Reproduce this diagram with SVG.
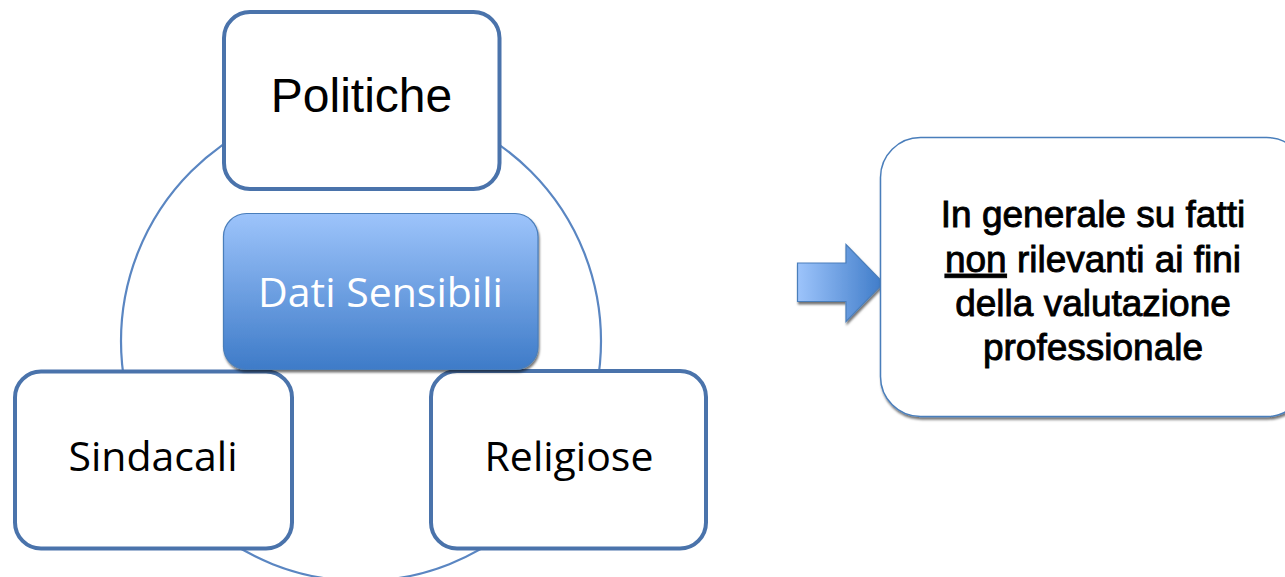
<svg xmlns="http://www.w3.org/2000/svg" width="1285" height="577" viewBox="0 0 1285 577">
  <defs>
    <linearGradient id="gV" x1="0" y1="0" x2="0" y2="1">
      <stop offset="0" stop-color="#9dc4fb"/>
      <stop offset="1" stop-color="#3e7bc8"/>
    </linearGradient>
    <linearGradient id="gH" x1="0" y1="0" x2="1" y2="0">
      <stop offset="0" stop-color="#9dc4fb"/>
      <stop offset="1" stop-color="#3e7bc8"/>
    </linearGradient>
    <filter id="sh" x="-10%" y="-10%" width="120%" height="130%">
      <feDropShadow dx="1" dy="2.5" stdDeviation="1" flood-color="#000" flood-opacity="0.55"/>
    </filter>
  </defs>
  <style>
    .box{fill:#fff;stroke:#4a73ab;stroke-width:4}
    .lbl{font-family:"Open Sans","Noto Sans",sans-serif;font-size:41px;fill:#000;text-anchor:middle}
    .arial{font-family:"Liberation Sans",Arial,sans-serif;fill:#000;text-anchor:middle}
    .ring{fill:none;stroke:#5a86c2;stroke-width:2.2}
    .blue{fill:url(#gV);stroke:#4a7ebb;stroke-width:1.2}
  </style>

  <g id="connectors">
    <circle class="ring" cx="361" cy="341" r="240"/>
    <path id="arrow" d="M797.5,263 L846,263 L846,244.5 L883.5,283 L846,321.5 L846,301.5 L797.5,301.5 Z" fill="url(#gH)" stroke="#4a7ebb" stroke-width="1.2" filter="url(#sh)"/>
  </g>

  <g id="politiche">
    <rect class="box" x="224" y="12" width="275.5" height="177" rx="26"/>
    <text class="arial" x="361.5" y="112" font-size="48">Politiche</text>
  </g>

  <g id="sindacali">
    <rect class="box" x="15" y="371.5" width="277" height="177" rx="26"/>
    <text class="lbl" x="153" y="471">Sindacali</text>
  </g>

  <g id="religiose">
    <rect class="box" x="431" y="371" width="275" height="177.5" rx="26"/>
    <text class="lbl" x="569" y="471">Religiose</text>
  </g>

  <g id="dati-sensibili">
    <rect class="blue" x="223.5" y="213.5" width="314.5" height="156" rx="23" filter="url(#sh)"/>
    <text class="lbl" x="380.5" y="307" style="fill:#fff">Dati Sensibili</text>
  </g>

  <g id="nota">
    <rect x="880.5" y="137.5" width="426" height="279" rx="40" fill="#fff" stroke="#4a7ebb" stroke-width="1.5" filter="url(#sh)"/>
    <g class="arial" font-size="37" stroke="#000" stroke-width="0.9">
      <text x="1093" y="227">In generale su fatti</text>
      <text x="1093" y="272"><tspan text-decoration="underline">non</tspan> rilevanti ai fini</text>
      <text x="1093" y="316">della valutazione</text>
      <text x="1093" y="360">professionale</text>
    </g>
  </g>
</svg>
